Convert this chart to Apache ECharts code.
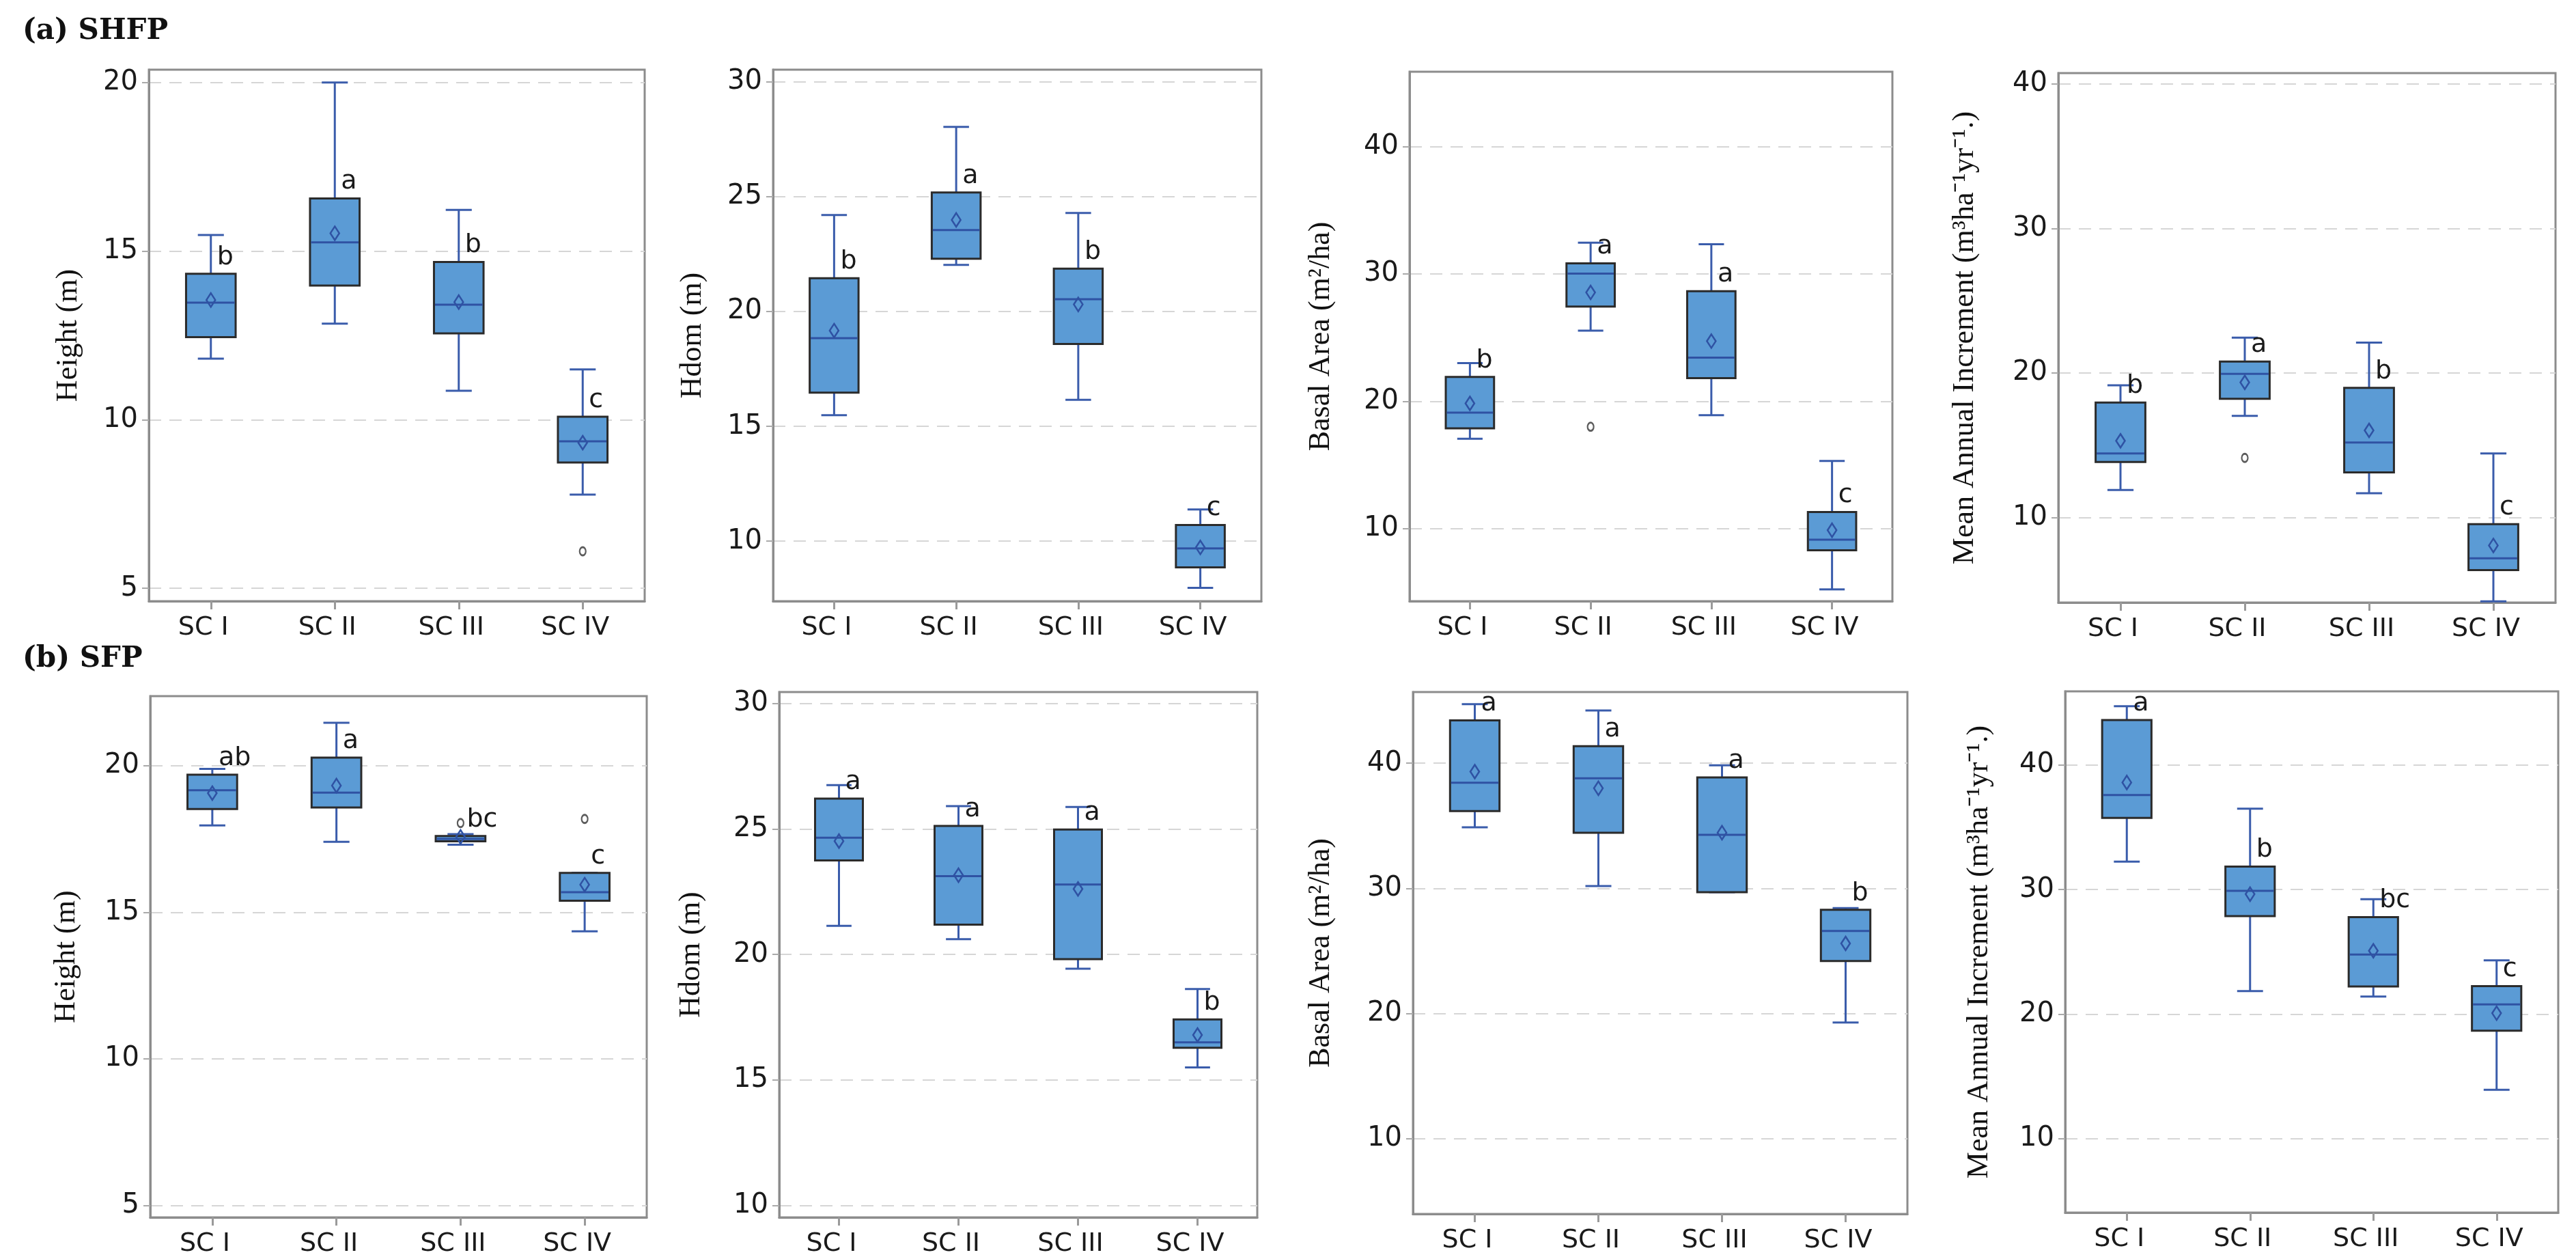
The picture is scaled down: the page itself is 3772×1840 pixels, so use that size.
<!DOCTYPE html>
<html>
<head>
<meta charset="utf-8">
<script src="https://cdn.jsdelivr.net/npm/echarts@6/dist/echarts.min.js"></script>
<style>
html,body{margin:0;padding:0;background:#fff;}
#chart{width:3772px;height:1840px;}
</style>
</head>
<body>
<div id="chart"></div>
<script>
// ---------------- DATA ----------------
const categories = ['SC I', 'SC II', 'SC III', 'SC IV'];

// each box: [min, Q1, median, Q3, max]
const shfpHeightBoxes = [[11.81, 12.45, 13.47, 14.33, 15.48], [12.85, 13.98, 15.26, 16.56, 20.0], [10.86, 12.56, 13.41, 14.68, 16.22], [7.78, 8.73, 9.36, 10.09, 11.49]];
const shfpHeightMeans = [13.55, 15.53, 13.49, 9.32];
const shfpHeightOutliers = [[3, 6.10]];
const shfpHeightLetters = ['b', 'a', 'b', 'c'];

const shfpHdomBoxes = [[15.49, 16.47, 18.84, 21.45, 24.20], [22.03, 22.30, 23.55, 25.18, 28.04], [16.16, 18.59, 20.54, 21.87, 24.29], [7.97, 8.86, 9.69, 10.71, 11.38]];
const shfpHdomMeans = [19.17, 23.99, 20.31, 9.73];
const shfpHdomOutliers = [];
const shfpHdomLetters = ['b', 'a', 'b', 'c'];

const shfpBasalBoxes = [[17.06, 17.88, 19.12, 21.92, 23.0], [25.55, 27.44, 30.03, 30.83, 32.46], [18.92, 21.83, 23.43, 28.65, 32.33], [5.25, 8.32, 9.14, 11.31, 15.33]];
const shfpBasalMeans = [19.84, 28.55, 24.73, 9.89];
const shfpBasalOutliers = [[1, 18.01]];
const shfpBasalLetters = ['b', 'a', 'a', 'c'];

const shfpMaiBoxes = [[11.91, 13.84, 14.44, 17.96, 19.15], [17.04, 18.22, 19.94, 20.79, 22.45], [11.68, 13.12, 15.19, 18.97, 22.1], [4.2, 6.37, 7.18, 9.54, 14.44]];
const shfpMaiMeans = [15.31, 19.35, 16.03, 8.07];
const shfpMaiOutliers = [[1, 14.13]];
const shfpMaiLetters = ['b', 'a', 'b', 'c'];

const sfpHeightBoxes = [[17.96, 18.52, 19.16, 19.69, 19.89], [17.40, 18.57, 19.08, 20.27, 21.46], [17.30, 17.42, 17.50, 17.60, 17.66], [14.35, 15.39, 15.68, 16.34, 16.34]];
const sfpHeightMeans = [19.06, 19.32, 17.57, 15.94];
const sfpHeightOutliers = [[2, 18.04], [3, 18.18]];
const sfpHeightLetters = ['ab', 'a', 'bc', 'c'];

const sfpHdomBoxes = [[21.14, 23.75, 24.65, 26.21, 26.75], [20.61, 21.19, 23.12, 25.12, 25.91], [19.43, 19.81, 22.79, 24.98, 25.88], [15.50, 16.28, 16.50, 17.41, 18.62]];
const sfpHdomMeans = [24.52, 23.16, 22.61, 16.79];
const sfpHdomOutliers = [];
const sfpHdomLetters = ['a', 'a', 'a', 'b'];

const sfpBasalBoxes = [[34.88, 36.18, 38.44, 43.43, 44.72], [30.19, 34.45, 38.80, 41.36, 44.22], [29.69, 29.69, 34.28, 38.87, 39.83], [19.28, 24.20, 26.60, 28.29, 28.43]];
const sfpBasalMeans = [39.33, 38.0, 34.45, 25.60];
const sfpBasalOutliers = [];
const sfpBasalLetters = ['a', 'a', 'a', 'b'];

const sfpMaiBoxes = [[32.24, 35.75, 37.59, 43.61, 44.72], [21.84, 27.86, 29.90, 31.84, 36.49], [21.40, 22.21, 24.78, 27.79, 29.23], [13.91, 18.66, 20.77, 22.24, 24.31]];
const sfpMaiMeans = [38.60, 29.63, 25.08, 20.07];
const sfpMaiOutliers = [];
const sfpMaiLetters = ['a', 'b', 'bc', 'c'];

// tick labels
const ticksHeight = [5, 10, 15, 20];
const ticksHdomA = [10, 15, 20, 25, 30];
const ticksHdomB = [10, 15, 20, 25, 30];
const ticksTens = [10, 20, 30, 40];

// axis names and panel titles
const yNames = ['Height (m)', 'Hdom (m)', 'Basal Area (m²/ha)', 'Mean Annual Increment (m³ha⁻¹yr⁻¹.)'];
const panelTitles = ['(a) SHFP', '(b) SFP'];

// ---------------- LAYOUT ----------------
const panels = [
  {boxes: shfpHeightBoxes, means: shfpHeightMeans, outliers: shfpHeightOutliers, letters: shfpHeightLetters, ticks: ticksHeight, name: yNames[0],
   grid: {left: 218, top: 102, width: 726, height: 778}, min: 4.62, max: 20.38, nameGap: 96},
  {boxes: shfpHdomBoxes, means: shfpHdomMeans, outliers: shfpHdomOutliers, letters: shfpHdomLetters, ticks: ticksHdomA, name: yNames[1],
   grid: {left: 1132, top: 102, width: 715, height: 778}, min: 7.39, max: 30.53, nameGap: 96},
  {boxes: shfpBasalBoxes, means: shfpBasalMeans, outliers: shfpBasalOutliers, letters: shfpBasalLetters, ticks: ticksTens, name: yNames[2],
   grid: {left: 2064, top: 105, width: 707, height: 775}, min: 4.32, max: 45.87, nameGap: 108},
  {boxes: shfpMaiBoxes, means: shfpMaiMeans, outliers: shfpMaiOutliers, letters: shfpMaiLetters, ticks: ticksTens, name: yNames[3],
   grid: {left: 3014, top: 107, width: 728, height: 775}, min: 4.12, max: 40.75, nameGap: 115},
  {boxes: sfpHeightBoxes, means: sfpHeightMeans, outliers: sfpHeightOutliers, letters: sfpHeightLetters, ticks: ticksHeight, name: yNames[0],
   grid: {left: 220, top: 1019, width: 727, height: 763}, min: 4.59, max: 22.37, nameGap: 101},
  {boxes: sfpHdomBoxes, means: sfpHdomMeans, outliers: sfpHdomOutliers, letters: sfpHdomLetters, ticks: ticksHdomB, name: yNames[1],
   grid: {left: 1141, top: 1013, width: 700, height: 770}, min: 9.52, max: 30.46, nameGap: 107},
  {boxes: sfpBasalBoxes, means: sfpBasalMeans, outliers: sfpBasalOutliers, letters: sfpBasalLetters, ticks: ticksTens, name: yNames[2],
   grid: {left: 2069, top: 1013, width: 724, height: 764}, min: 3.98, max: 45.69, nameGap: 113},
  {boxes: sfpMaiBoxes, means: sfpMaiMeans, outliers: sfpMaiOutliers, letters: sfpMaiLetters, ticks: ticksTens, name: yNames[3],
   grid: {left: 3024, top: 1012, width: 722, height: 763}, min: 4.05, max: 45.92, nameGap: 104}
];

const FILL = '#5b9bd5';
const EDGE = '#2b2b2b';
const BLUE = '#2f52a3';
const WHISK = '#3a5cab';
const FRAME = '#8c8c8c';

function renderBox(params, api) {
  const x = api.value(0);
  const pMin = api.coord([x, api.value(1)]);
  const pQ1 = api.coord([x, api.value(2)]);
  const pMed = api.coord([x, api.value(3)]);
  const pQ3 = api.coord([x, api.value(4)]);
  const pMax = api.coord([x, api.value(5)]);
  const pMean = api.coord([x, api.value(6)]);
  const letter = params.context && null;
  const band = api.size([1, 0])[0];
  const bw = band * 0.4, cw = band * 0.21;
  const cx = pMed[0];
  const children = [];
  children.push({type: 'line', shape: {x1: cx, y1: pQ3[1], x2: cx, y2: pMax[1]}, style: {stroke: WHISK, lineWidth: 3}});
  children.push({type: 'line', shape: {x1: cx, y1: pQ1[1], x2: cx, y2: pMin[1]}, style: {stroke: WHISK, lineWidth: 3}});
  children.push({type: 'line', shape: {x1: cx - cw / 2, y1: pMax[1], x2: cx + cw / 2, y2: pMax[1]}, style: {stroke: WHISK, lineWidth: 3}});
  children.push({type: 'line', shape: {x1: cx - cw / 2, y1: pMin[1], x2: cx + cw / 2, y2: pMin[1]}, style: {stroke: WHISK, lineWidth: 3}});
  children.push({type: 'rect', shape: {x: cx - bw / 2, y: pQ3[1], width: bw, height: Math.max(pQ1[1] - pQ3[1], 1)}, style: {fill: FILL, stroke: EDGE, lineWidth: 3}});
  children.push({type: 'line', shape: {x1: cx - bw / 2 + 1.5, y1: pMed[1], x2: cx + bw / 2 - 1.5, y2: pMed[1]}, style: {stroke: BLUE, lineWidth: 3}});
  children.push({type: 'polygon', shape: {points: [[cx, pMean[1] - 10], [cx + 6.5, pMean[1]], [cx, pMean[1] + 10], [cx - 6.5, pMean[1]]]}, style: {fill: 'none', stroke: BLUE, lineWidth: 2.5}});
  children.push({type: 'text', style: {text: api.value(7), x: cx + 9, y: pQ3[1] - 5, textAlign: 'left', textVerticalAlign: 'bottom', align: 'left', verticalAlign: 'bottom', font: '38px "DejaVu Sans"', fill: '#1a1a1a'}});
  return {type: 'group', children: children};
}

const option = {
  animation: false,
  backgroundColor: '#ffffff',
  title: [
    {text: panelTitles[0], left: 33, top: 25, padding: 0, textStyle: {fontFamily: 'DejaVu Serif', fontWeight: 'bold', fontSize: 42, color: '#111'}},
    {text: panelTitles[1], left: 33, top: 944, padding: 0, textStyle: {fontFamily: 'DejaVu Serif', fontWeight: 'bold', fontSize: 42, color: '#111'}}
  ],
  grid: [], xAxis: [], yAxis: [], series: []
};

panels.forEach(function (p, i) {
  option.grid.push(Object.assign({show: true, borderColor: FRAME, borderWidth: 3, backgroundColor: 'transparent', containLabel: false}, p.grid));
  option.xAxis.push({
    type: 'category', gridIndex: i, data: categories, boundaryGap: true,
    axisLine: {show: true, lineStyle: {color: FRAME, width: 3}},
    axisTick: {show: true, alignWithLabel: true, length: 12, lineStyle: {color: '#9a9a9a', width: 3}},
    axisLabel: {margin: 20, fontFamily: 'DejaVu Sans', fontSize: 38, color: '#1a1a1a', padding: [0, 22, 0, 0]},
    splitLine: {show: false}
  });
  option.yAxis.push({
    type: 'value', gridIndex: i, min: p.min, max: p.max,
    name: p.name, nameLocation: 'middle', nameGap: p.nameGap,
    nameTextStyle: {fontFamily: 'Liberation Serif', fontSize: 44, color: '#111'},
    axisLine: {show: true, lineStyle: {color: FRAME, width: 3}},
    axisTick: {show: true, length: 10, customValues: p.ticks, lineStyle: {color: '#aaaaaa', width: 2}},
    axisLabel: {customValues: p.ticks, margin: 16, fontFamily: 'DejaVu Sans', fontSize: 40, color: '#1a1a1a'},
    splitLine: {show: true, lineStyle: {color: '#d6d6d6', width: 2, type: [18, 12]}}
  });
  const data = p.boxes.map(function (b, k) { return [k, b[0], b[1], b[2], b[3], b[4], p.means[k], p.letters[k]]; });
  option.series.push({
    type: 'custom', xAxisIndex: i, yAxisIndex: i, renderItem: renderBox,
    encode: {x: 0, y: [1, 2, 3, 4, 5, 6]}, data: data, z: 5
  });
  option.series.push({
    type: 'scatter', xAxisIndex: i, yAxisIndex: i, data: p.outliers,
    symbol: 'circle', symbolSize: [9, 12],
    itemStyle: {color: '#ffffff', borderColor: '#333333', borderWidth: 2.5}, z: 6
  });
});

const chart = echarts.init(document.getElementById('chart'), null, {renderer: 'canvas'});
chart.setOption(option);
</script>
</body>
</html>
